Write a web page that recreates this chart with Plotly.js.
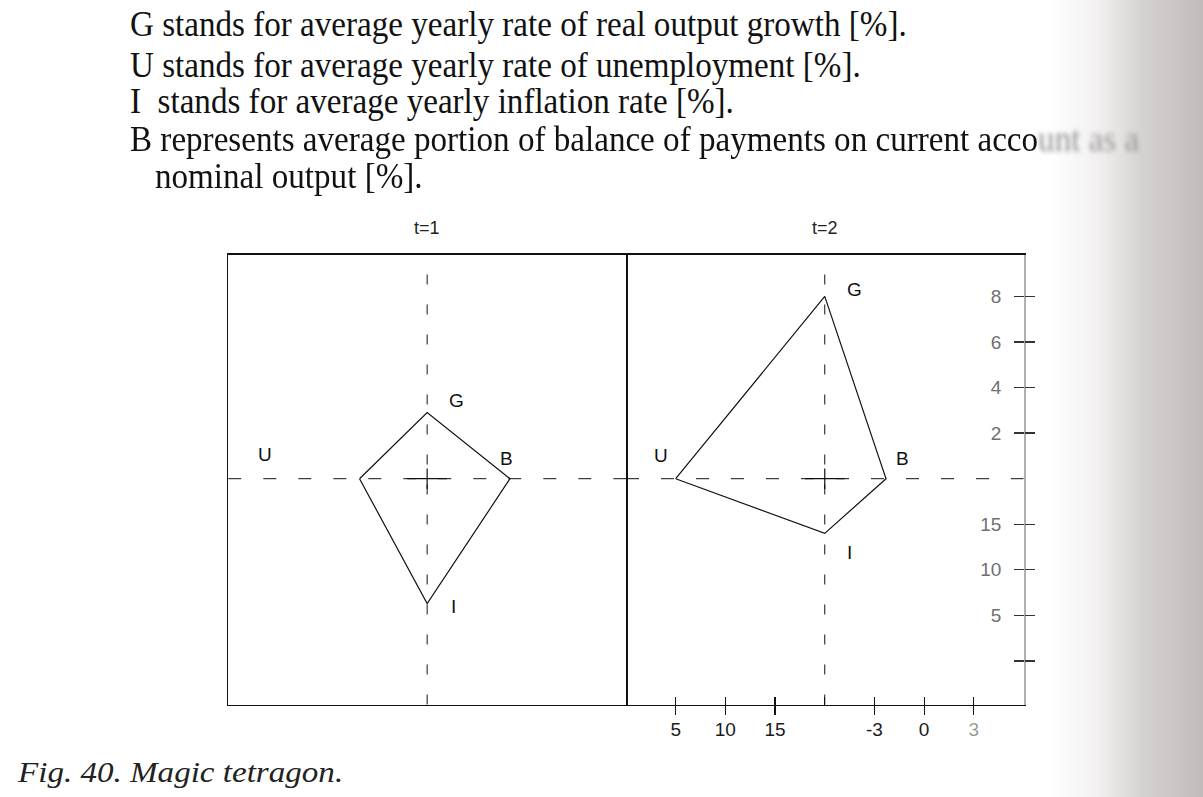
<!DOCTYPE html>
<html>
<head>
<meta charset="utf-8">
<script src="https://cdn.plot.ly/plotly-3.0.1.min.js"></script>
<style>
  html, body { margin: 0; padding: 0; background: #fff; }
  #page { position: relative; width: 1203px; height: 797px; overflow: hidden; background: #fff; }
  #chart { position: absolute; left: 0; top: 0; width: 1203px; height: 797px; }
  .tx { position: absolute; white-space: nowrap; font-family: "Liberation Serif", "DejaVu Serif", serif;
        font-size: 36px; line-height: 34px; height: 34px; color: #111; transform-origin: 0 0; }
  #cap { position: absolute; white-space: nowrap; font-family: "Liberation Serif", serif; font-style: italic;
         font-size: 29px; line-height: 29px; color: #222; transform-origin: 0 0; left: 18px; top: 758px; }
  .blur { filter: blur(2.6px); color: #8a8a8a; }
  #shade { position: absolute; left: 1050px; top: 0; width: 153px; height: 797px; pointer-events: none;
    background:
      linear-gradient(to right, rgba(255,255,255,0) 0%, rgba(200,192,192,0.22) 30%, rgba(175,165,165,0.5) 60%, rgba(165,155,155,0.68) 100%); }
</style>
</head>
<body>
<div id="page">
  <div id="chart"></div>
  <div class="tx" id="l1" style="left:130px; top:6.9px">G stands for average yearly rate of real output growth [%].</div>
  <div class="tx" id="l2" style="left:130px; top:47.9px">U stands for average yearly rate of unemployment [%].</div>
  <div class="tx" id="l3" style="left:130px; top:84.4px">I&nbsp; stands for average yearly inflation rate [%].</div>
  <div class="tx" id="l4" style="left:130px; top:122.4px">B represents average portion of balance of payments on current acco<span class="blur">unt as a</span></div>
  <div class="tx" id="l5" style="left:155px; top:159.4px">nominal output [%].</div>
  <div id="cap">Fig. 40. Magic tetragon.</div>
  <div id="shade"></div>
</div>
<script>
// ---- data ----
const periods      = ['t=1', 't=2'];
const vertexNames  = ['U', 'G', 'B', 'I'];
const unemployment = [13.2, 5.0];   // U [%]
const growth       = [2.9, 8.0];    // G [%]
const balance      = [-1.0, -2.3];  // B [% of nominal output]
const inflation    = [6.3, 14.0];   // I [%]
const uTicks = [5, 10, 15];
const bTicks = [-3, 0, 3];
const gTicks = [2, 4, 6, 8];
const iTicks = [15, 10, 5, 0];
const iTickText = ['15', '10', '5', ''];

// ---- axis origin values and relative scales of the four half-axes ----
const U0 = 20, B0 = -6, I0 = 20;
const kB = 5 / 3, kI = 0.4;
const ux = u => -(U0 - u);
const bx = b => (b - B0) * kB;
const gy = g => g;
const iy = i => -(I0 - i) * kI;

const W = 1203, H = 797;
const xr = [-20, 20];
const yr = [-9.91, 9.84];
const dom1 = [228.3 / W, 626 / W];
const dom2 = [626 / W, 1023.5 / W];
const ydom = [1 - 704.5 / H, 1 - 254.5 / H];
const sans = 'Liberation Sans, Arial, sans-serif';

const traces = periods.map((p, k) => ({
  type: 'scatter', mode: 'lines', name: p,
  x: [ux(unemployment[k]), 0, bx(balance[k]), 0, ux(unemployment[k])],
  y: [0, gy(growth[k]), 0, iy(inflation[k]), 0],
  xaxis: k === 0 ? 'x' : 'x2', yaxis: k === 0 ? 'y' : 'y2',
  line: { color: '#111', width: 1.2 }, hoverinfo: 'skip', showlegend: false
}));
// carrier for the overlay tick axes of panel 2
traces.push({ type: 'scatter', mode: 'lines', x: [null], y: [null], xaxis: 'x3', yaxis: 'y3',
  hoverinfo: 'skip', showlegend: false });

const xTickVals = uTicks.map(ux).concat(bTicks.map(bx));
const xTickText = uTicks.map(String).concat(bTicks.map((b, j) => j === 2 ? '<span style="color:#9a9a9a">' + b + '</span>' : String(b)));
const yTickVals = gTicks.map(gy).concat(iTicks.map(iy));
const yTickText = gTicks.map(String).concat(iTickText);

const frame = { showline: true, linecolor: '#111', linewidth: 1.5, showgrid: false, zeroline: false,
  showticklabels: false, ticks: '', fixedrange: true };

const shapes = [];
['x', 'x2'].forEach((xa, k) => {
  const ya = k === 0 ? 'y' : 'y2';
  shapes.push({ type: 'line', xref: xa, yref: ya + ' domain', x0: 0, x1: 0, y0: 0, y1: 1,
    line: { color: '#111', width: 1, dash: '10px,20px' } });
  shapes.push({ type: 'line', xref: xa + ' domain', yref: ya, x0: 0, x1: 1, y0: 0, y1: 0,
    line: { color: '#111', width: 1, dash: '13px,22px' } });
  shapes.push({ type: 'line', xref: xa, yref: ya, x0: -2, x1: 2, y0: 0, y1: 0, line: { color: '#111', width: 1.2 } });
  shapes.push({ type: 'line', xref: xa, yref: ya, x0: 0, x1: 0, y0: -0.45, y1: 0.45, line: { color: '#111', width: 1.2 } });
});

// label positions (data coordinates of each panel)
const labelPos = [
  { U: [-16.3, 1.05], G: [3.0, 3.45], B: [7.95, 0.9], I: [2.6, -5.6] },
  { U: [-16.5, 1.0], G: [3.0, 8.3], B: [7.85, 0.9], I: [2.5, -3.25] }
];
const annotations = [];
periods.forEach((p, k) => {
  const xa = k === 0 ? 'x' : 'x2', ya = k === 0 ? 'y' : 'y2';
  annotations.push({ text: p, xref: xa, yref: 'paper', x: 0, y: 1 - 228 / H, yanchor: 'middle', xanchor: 'center',
    showarrow: false, font: { family: sans, size: 18, color: '#222' } });
  vertexNames.forEach(v => {
    annotations.push({ text: v, xref: xa, yref: ya, x: labelPos[k][v][0], y: labelPos[k][v][1],
      showarrow: false, font: { family: sans, size: 19, color: '#111' } });
  });
});

const layout = {
  width: W, height: H, margin: { l: 0, r: 0, t: 0, b: 0 },
  paper_bgcolor: 'rgba(0,0,0,0)', plot_bgcolor: 'rgba(0,0,0,0)', showlegend: false,
  xaxis: Object.assign({}, frame, { domain: dom1, range: xr, anchor: 'y', mirror: true }),
  yaxis: Object.assign({}, frame, { domain: ydom, range: yr, anchor: 'x', mirror: true }),
  xaxis2: Object.assign({}, frame, { domain: dom2, range: xr, anchor: 'y2', mirror: true,
    ticks: 'outside', ticklen: 9, tickwidth: 1.2, tickcolor: '#111', tickmode: 'array',
    tickvals: xTickVals, ticktext: xTickText, showticklabels: true, ticklabelstandoff: -2,
    tickfont: { family: sans, size: 19, color: '#1a1a1a' } }),
  yaxis2: Object.assign({}, frame, { domain: ydom, range: yr, anchor: 'x2', side: 'right',
    linecolor: '#b0b0b0', linewidth: 2.5, ticks: 'inside', ticklen: 10, tickwidth: 1.3, tickcolor: '#333',
    tickmode: 'array', tickvals: yTickVals, ticktext: yTickText, showticklabels: true,
    ticklabelposition: 'inside', ticklabelstandoff: 13, tickfont: { family: sans, size: 19, color: '#707070' } }),
  xaxis3: { overlaying: 'x2', anchor: 'y3', range: xr, showgrid: false, zeroline: false, showline: false,
    ticks: 'inside', ticklen: 8, tickwidth: 1.2, tickcolor: '#111', tickmode: 'array',
    tickvals: xTickVals.concat([0]), showticklabels: false, fixedrange: true },
  yaxis3: { overlaying: 'y2', anchor: 'x3', side: 'right', range: yr, showgrid: false, zeroline: false, showline: false,
    ticks: 'outside', ticklen: 10, tickwidth: 1.3, tickcolor: '#333', tickmode: 'array',
    tickvals: yTickVals, showticklabels: false, fixedrange: true },
  shapes: shapes, annotations: annotations
};

Plotly.newPlot('chart', traces, layout, { staticPlot: true, displayModeBar: false });

// condense the scanned serif text to the widths seen in the reference
const l1 = document.getElementById('l1');
const s = 777 / l1.offsetWidth;
['l1', 'l2', 'l3', 'l4', 'l5'].forEach(id => {
  document.getElementById(id).style.transform = 'scaleX(' + s + ')';
});
const cap = document.getElementById('cap');
cap.style.transform = 'scaleX(' + (325 / cap.offsetWidth) + ')';
</script>
</body>
</html>
